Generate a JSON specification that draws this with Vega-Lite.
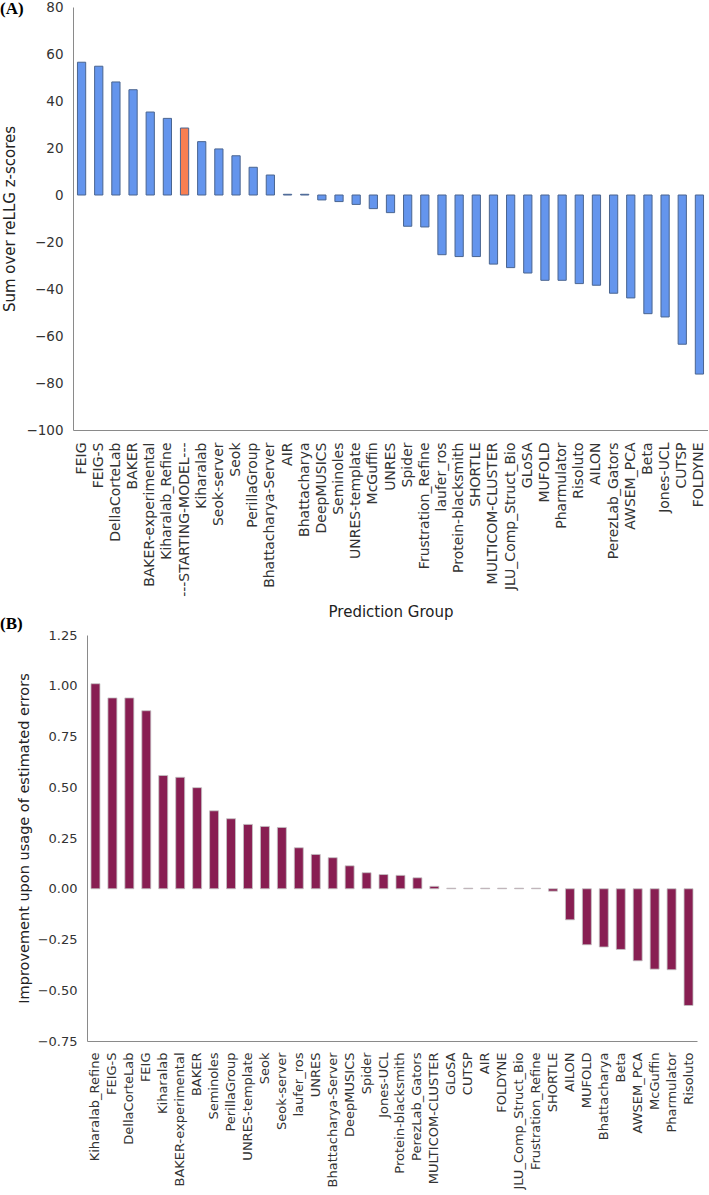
{
  "$schema": "https://vega.github.io/schema/vega-lite/v6.json",
  "padding": {"left": 0, "top": 0, "right": 0, "bottom": 0},
  "background": "white",
  "bounds": "flush",
  "spacing": 205,
  "config": {
    "view": {"stroke": null},
    "font": "DejaVu Sans",
    "axis": {
      "domainColor": "#8a8a8a",
      "domainWidth": 1,
      "labelColor": "#333333",
      "titleColor": "#222222",
      "titleFontWeight": "normal",
      "labelFont": "DejaVu Sans",
      "titleFont": "DejaVu Sans",
      "ticks": false,
      "tickSize": 0,
      "grid": false,
      "labelOverlap": false
    }
  },
  "vconcat": [
    {
      "title": {"text": "(A)", "anchor": "start", "frame": "group", "dx": -73, "offset": -18, "font": "Liberation Serif", "fontSize": 17, "fontWeight": "bold", "color": "#000000"},
      "width": 635,
      "height": 423,
      "data": {"values": [
        {"group": "FEIG", "value": 56.5, "kind": "group"},
        {"group": "FEIG-S", "value": 54.8, "kind": "group"},
        {"group": "DellaCorteLab", "value": 48.1, "kind": "group"},
        {"group": "BAKER", "value": 44.8, "kind": "group"},
        {"group": "BAKER-experimental", "value": 35.3, "kind": "group"},
        {"group": "Kiharalab_Refine", "value": 32.6, "kind": "group"},
        {"group": "---STARTING-MODEL---", "value": 28.5, "kind": "start"},
        {"group": "Kiharalab", "value": 22.7, "kind": "group"},
        {"group": "Seok-server", "value": 19.6, "kind": "group"},
        {"group": "Seok", "value": 16.7, "kind": "group"},
        {"group": "PerillaGroup", "value": 11.8, "kind": "group"},
        {"group": "Bhattacharya-Server", "value": 8.5, "kind": "group"},
        {"group": "AIR", "value": 0.3, "kind": "group"},
        {"group": "Bhattacharya", "value": 0.3, "kind": "group"},
        {"group": "DeepMUSICS", "value": -2.1, "kind": "group"},
        {"group": "Seminoles", "value": -2.8, "kind": "group"},
        {"group": "UNRES-template", "value": -4.0, "kind": "group"},
        {"group": "McGuffin", "value": -5.8, "kind": "group"},
        {"group": "UNRES", "value": -7.5, "kind": "group"},
        {"group": "Spider", "value": -13.3, "kind": "group"},
        {"group": "Frustration_Refine", "value": -13.6, "kind": "group"},
        {"group": "laufer_ros", "value": -25.4, "kind": "group"},
        {"group": "Protein-blacksmith", "value": -26.2, "kind": "group"},
        {"group": "SHORTLE", "value": -26.2, "kind": "group"},
        {"group": "MULTICOM-CLUSTER", "value": -29.4, "kind": "group"},
        {"group": "JLU_Comp_Struct_Bio", "value": -30.9, "kind": "group"},
        {"group": "GLoSA", "value": -33.2, "kind": "group"},
        {"group": "MUFOLD", "value": -36.3, "kind": "group"},
        {"group": "Pharmulator", "value": -36.3, "kind": "group"},
        {"group": "Risoluto", "value": -37.7, "kind": "group"},
        {"group": "AILON", "value": -38.4, "kind": "group"},
        {"group": "PerezLab_Gators", "value": -41.8, "kind": "group"},
        {"group": "AWSEM_PCA", "value": -43.8, "kind": "group"},
        {"group": "Beta", "value": -50.5, "kind": "group"},
        {"group": "Jones-UCL", "value": -51.9, "kind": "group"},
        {"group": "CUTSP", "value": -63.5, "kind": "group"},
        {"group": "FOLDYNE", "value": -76.2, "kind": "group"}
      ]},
      "mark": {"type": "bar", "stroke": "#4a6590", "strokeWidth": 1},
      "encoding": {
        "x": {
          "field": "group", "type": "nominal", "sort": null,
          "scale": {"paddingInner": 0.52, "paddingOuter": 0.26},
          "axis": {"title": "Prediction Group", "labelAngle": -90, "labelFontSize": 14, "labelPadding": 12, "titleFontSize": 15, "titlePadding": 8, "labelLimit": 300}
        },
        "y": {
          "field": "value", "type": "quantitative",
          "scale": {"domain": [-100, 80], "nice": false, "zero": false},
          "axis": {"title": "Sum over reLLG z-scores", "values": [-100, -80, -60, -40, -20, 0, 20, 40, 60, 80], "labelFontSize": 13.5, "labelPadding": 10, "titleFontSize": 15, "titlePadding": 8}
        },
        "color": {
          "field": "kind", "type": "nominal",
          "scale": {"domain": ["group", "start"], "range": ["#6495ed", "#f97f51"]},
          "legend": null
        }
      }
    },
    {
      "title": {"text": "(B)", "anchor": "start", "frame": "group", "dx": -73, "offset": -4, "font": "Liberation Serif", "fontSize": 17, "fontWeight": "bold", "color": "#000000"},
      "width": 624,
      "height": 406,
      "data": {"values": [
        {"group": "Kiharalab_Refine", "value": 1.01},
        {"group": "FEIG-S", "value": 0.94},
        {"group": "DellaCorteLab", "value": 0.94},
        {"group": "FEIG", "value": 0.877},
        {"group": "Kiharalab", "value": 0.558},
        {"group": "BAKER-experimental", "value": 0.549},
        {"group": "BAKER", "value": 0.498},
        {"group": "Seminoles", "value": 0.384},
        {"group": "PerillaGroup", "value": 0.345},
        {"group": "UNRES-template", "value": 0.317},
        {"group": "Seok", "value": 0.307},
        {"group": "Seok-server", "value": 0.302},
        {"group": "laufer_ros", "value": 0.202},
        {"group": "UNRES", "value": 0.169},
        {"group": "Bhattacharya-Server", "value": 0.153},
        {"group": "DeepMUSICS", "value": 0.113},
        {"group": "Spider", "value": 0.079},
        {"group": "Jones-UCL", "value": 0.07},
        {"group": "Protein-blacksmith", "value": 0.066},
        {"group": "PerezLab_Gators", "value": 0.054},
        {"group": "MULTICOM-CLUSTER", "value": 0.012},
        {"group": "GLoSA", "value": 0.003},
        {"group": "CUTSP", "value": 0.003},
        {"group": "AIR", "value": 0.003},
        {"group": "FOLDYNE", "value": 0.003},
        {"group": "JLU_Comp_Struct_Bio", "value": 0.003},
        {"group": "Frustration_Refine", "value": 0.003},
        {"group": "SHORTLE", "value": -0.012},
        {"group": "AILON", "value": -0.153},
        {"group": "MUFOLD", "value": -0.276},
        {"group": "Bhattacharya", "value": -0.287},
        {"group": "Beta", "value": -0.299},
        {"group": "AWSEM_PCA", "value": -0.355},
        {"group": "McGuffin", "value": -0.396},
        {"group": "Pharmulator", "value": -0.399},
        {"group": "Risoluto", "value": -0.575}
      ]},
      "mark": {"type": "bar", "color": "#881e52", "stroke": "#c4c4c4", "strokeWidth": 0.8},
      "encoding": {
        "x": {
          "field": "group", "type": "nominal", "sort": null,
          "scale": {"paddingInner": 0.47, "paddingOuter": 0.235, "rangeMin": 14},
          "axis": {"title": null, "labelAngle": -90, "labelFontSize": 13, "labelPadding": 11, "labelLimit": 300}
        },
        "y": {
          "field": "value", "type": "quantitative",
          "scale": {"domain": [-0.75, 1.25], "nice": false, "zero": false},
          "axis": {"title": "Improvement upon usage of estimated errors", "offset": -14, "values": [-0.75, -0.5, -0.25, 0, 0.25, 0.5, 0.75, 1, 1.25], "format": ".2f", "labelFontSize": 13, "labelPadding": 10, "titleFontSize": 14.5, "titlePadding": 6}
        }
      }
    }
  ]
}
